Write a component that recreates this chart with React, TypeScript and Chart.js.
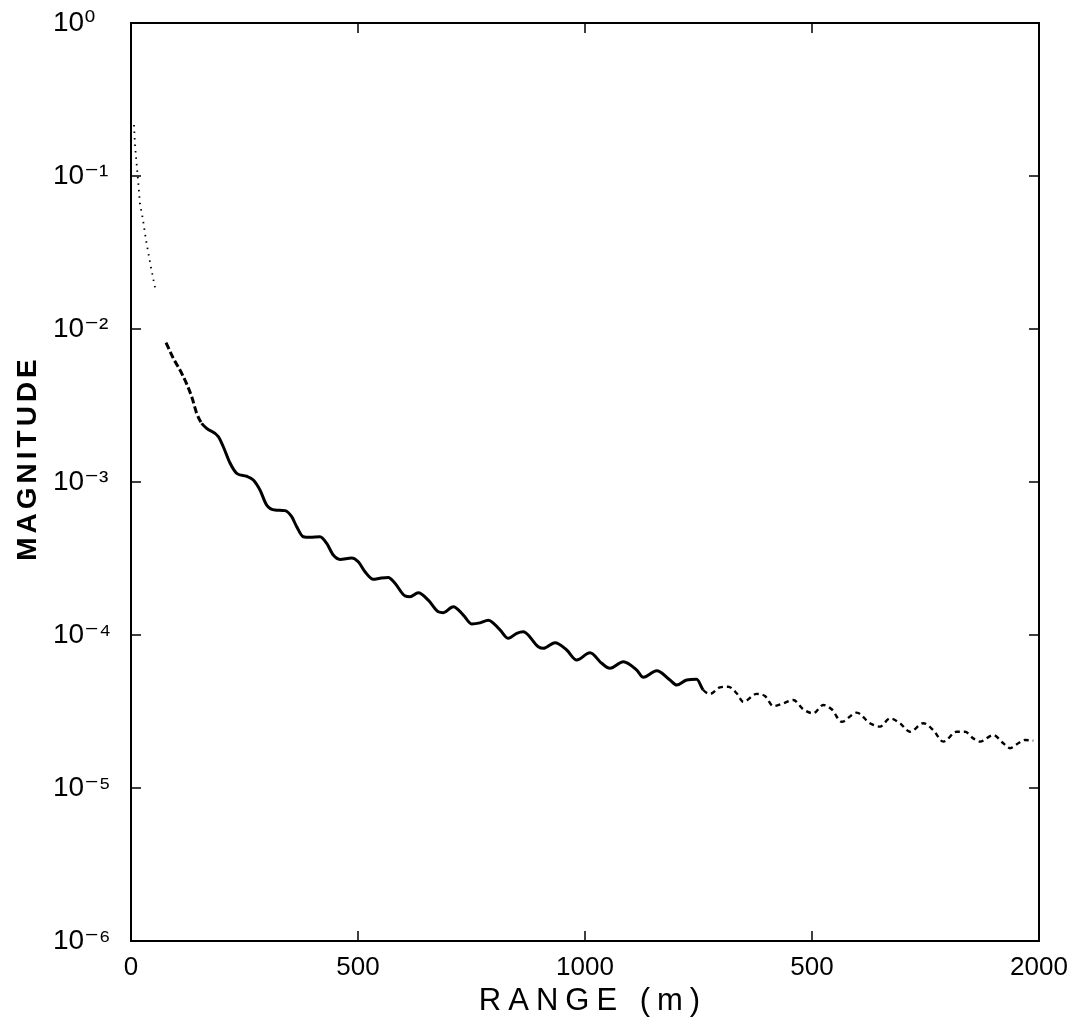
import React, { useEffect, useRef } from "react";
import { Chart, registerables } from "chart.js";

Chart.register(...registerables);

// Near-field dotted part of the curve (range in m, magnitude)
const nearRange = [6.6, 8.8, 12.6, 16.1, 19.8, 25.8, 33.0, 43.4, 53.5];
const nearMag = [0.2154, 0.1594, 0.118, 0.09, 0.0656, 0.0531, 0.0382, 0.0258, 0.0183];

// Main part of the curve
const mainRange = [
  77.1, 93.2, 111.7, 133.7, 144.7, 155.7, 166.7, 192.3, 203.3, 218.1, 232.8, 254.8, 269.4, 284.1, 298.9,
  317.2, 339.2, 354.0, 365.0, 379.5, 394.3, 416.3, 431.1, 445.6, 460.3, 486.1, 500.6, 515.4, 533.7, 548.4,
  566.7, 581.5, 603.5, 614.5, 632.8, 654.8, 676.9, 687.9, 709.9, 731.9, 750.4, 768.7, 787.0, 812.8, 831.0,
  849.6, 864.1, 897.1, 908.2, 933.9, 959.7, 981.7, 1011.0, 1036.8, 1055.0, 1084.3, 1113.9, 1128.4, 1157.9,
  1187.2, 1202.0, 1224.0, 1246.0, 1260.5, 1275.3, 1297.3, 1315.6, 1334.1, 1348.7, 1378.2, 1396.4, 1414.7,
  1436.8, 1458.8, 1480.8, 1502.8, 1524.9, 1543.4, 1565.4, 1598.4, 1627.7, 1649.8, 1671.8, 1693.8, 1715.8,
  1745.1, 1767.1, 1789.2, 1818.7, 1837.0, 1855.3, 1870.0, 1899.3, 1921.3, 1936.1, 1954.4, 1969.1, 1987.4,
];
const mainMag = [
  0.00814, 0.00643, 0.00513, 0.00361, 0.00281, 0.00242, 0.00224, 0.00198, 0.0017, 0.00133, 0.00114, 0.00109,
  0.00103, 0.000886, 0.000707, 0.000656, 0.00065, 0.000593, 0.00051, 0.000439, 0.000435, 0.000439, 0.000397,
  0.000333, 0.000312, 0.000319, 0.000301, 0.000259, 0.000231, 0.000235, 0.000238, 0.000218, 0.00018, 0.000178,
  0.000189, 0.000169, 0.000142, 0.00014, 0.000153, 0.000135, 0.000118, 0.00012, 0.000125, 0.000108, 0.0000951,
  0.0001026, 0.0001051, 0.0000839, 0.0000819, 0.0000891, 0.0000798, 0.0000686, 0.0000766, 0.0000653, 0.0000606,
  0.0000669, 0.000059, 0.0000529, 0.0000584, 0.0000508, 0.0000471, 0.0000508, 0.0000513, 0.0000437, 0.0000412,
  0.0000455, 0.0000459, 0.0000416, 0.0000366, 0.0000412, 0.0000399, 0.0000343, 0.0000358, 0.0000376, 0.0000327,
  0.0000308, 0.0000349, 0.0000327, 0.0000271, 0.0000311, 0.0000265, 0.0000252, 0.0000285, 0.0000265, 0.0000233,
  0.0000265, 0.0000239, 0.0000201, 0.0000233, 0.0000233, 0.0000211, 0.0000201, 0.0000222, 0.0000196, 0.0000182,
  0.0000196, 0.0000206, 0.0000204,
];

const xTickValues = [0, 500, 1000, 1500, 2000];
const xTickLabels = ["0", "500", "1000", "500", "2000"];
const yTickValues = [1e-6, 1e-5, 1e-4, 1e-3, 1e-2, 1e-1, 1];
const yTickLabels = ["10⁻⁶", "10⁻⁵", "10⁻⁴", "10⁻³", "10⁻²", "10⁻¹", "10⁰"];

const xTitle = "RANGE (m)";
const yTitle = "MAGNITUDE";

const FONT = '"Liberation Sans", "DejaVu Sans", sans-serif';

const framePlugin = {
  id: "frame",
  afterDraw(chart: any) {
    const { ctx, chartArea } = chart;
    const { left, right, top, bottom } = chartArea;
    const xs = chart.scales.x;
    const ys = chart.scales.y;
    ctx.save();
    ctx.strokeStyle = "#000";
    ctx.lineWidth = 2;
    ctx.strokeRect(left, top, right - left, bottom - top);
    ctx.lineWidth = 1.5;
    ctx.beginPath();
    for (const v of xTickValues.slice(1, -1)) {
      const px = xs.getPixelForValue(v);
      ctx.moveTo(px, bottom);
      ctx.lineTo(px, bottom - 10);
      ctx.moveTo(px, top);
      ctx.lineTo(px, top + 10);
    }
    for (const v of yTickValues.slice(1, -1)) {
      const py = ys.getPixelForValue(v);
      ctx.moveTo(left, py);
      ctx.lineTo(left + 10, py);
      ctx.moveTo(right, py);
      ctx.lineTo(right - 10, py);
    }
    ctx.stroke();
    ctx.fillStyle = "#000";
    ctx.textAlign = "center";
    ctx.textBaseline = "middle";
    // x-axis title
    ctx.font = `31px ${FONT}`;
    (ctx as any).letterSpacing = "7px";
    ctx.fillText(xTitle, (left + right) / 2 + 8, 1001);
    // y-axis title
    ctx.translate(28, 458);
    ctx.rotate(-Math.PI / 2);
    ctx.font = `bold 28px ${FONT}`;
    (ctx as any).letterSpacing = "4px";
    ctx.fillText(yTitle, 0, 0);
    ctx.restore();
  },
};

export default function App() {
  const ref = useRef<HTMLCanvasElement | null>(null);

  useEffect(() => {
    document.body.style.margin = "0";
    const canvas = ref.current;
    if (!canvas) return;
    const chart = new Chart(canvas, {
      type: "line",
      data: {
        datasets: [
          {
            data: nearRange.map((x, i) => ({ x, y: nearMag[i] })),
            borderColor: "#000",
            borderWidth: 1.8,
            borderDash: [1.5, 5],
            pointRadius: 0,
            fill: false,
          },
          {
            data: mainRange.map((x, i) => ({ x, y: mainMag[i] })),
            borderColor: "#000",
            borderWidth: 3,
            pointRadius: 0,
            fill: false,
            cubicInterpolationMode: "monotone",
            segment: {
              borderDash: (c: any) =>
                c.p0.parsed.x < 150 ? [7, 3] : c.p0.parsed.x > 1250 ? [5, 4] : undefined,
              borderWidth: (c: any) => (c.p0.parsed.x > 1250 ? 2.4 : 3),
            },
          },
        ],
      },
      options: {
        responsive: false,
        animation: false,
        layout: { padding: { top: 23, right: 36, left: 53, bottom: 0 } },
        plugins: { legend: { display: false }, tooltip: { enabled: false } },
        scales: {
          x: {
            type: "linear",
            min: 0,
            max: 2000,
            afterFit: (s: any) => {
              s.height = 83;
              s.paddingLeft = 0;
              s.paddingRight = 0;
            },
            afterBuildTicks: (s: any) => {
              s.ticks = xTickValues.map((v) => ({ value: v }));
            },
            grid: { display: false, drawTicks: false },
            border: { display: false },
            ticks: {
              padding: 11,
              color: "#000",
              font: { family: FONT, size: 26 },
              maxRotation: 0,
              callback: (v: any) => {
                const i = xTickValues.indexOf(Number(v));
                return i >= 0 ? xTickLabels[i] : "";
              },
            },
          },
          y: {
            type: "logarithmic",
            min: 1e-6,
            max: 1,
            afterFit: (s: any) => {
              s.width = 78;
              s.paddingTop = 0;
              s.paddingBottom = 0;
            },
            afterBuildTicks: (s: any) => {
              s.ticks = yTickValues.map((v) => ({ value: v }));
            },
            grid: { display: false, drawTicks: false },
            border: { display: false },
            ticks: {
              padding: 18,
              crossAlign: "far",
              color: "#000",
              font: { family: FONT, size: 28 },
              callback: (v: any) => {
                const i = yTickValues.findIndex((t) => Math.abs(Math.log10(t) - Math.log10(Number(v))) < 1e-6);
                return i >= 0 ? yTickLabels[i] : "";
              },
            },
          },
        },
      },
      plugins: [framePlugin],
    });
    return () => chart.destroy();
  }, []);

  return <canvas ref={ref} width={1075} height={1024} style={{ display: "block" }} />;
}
